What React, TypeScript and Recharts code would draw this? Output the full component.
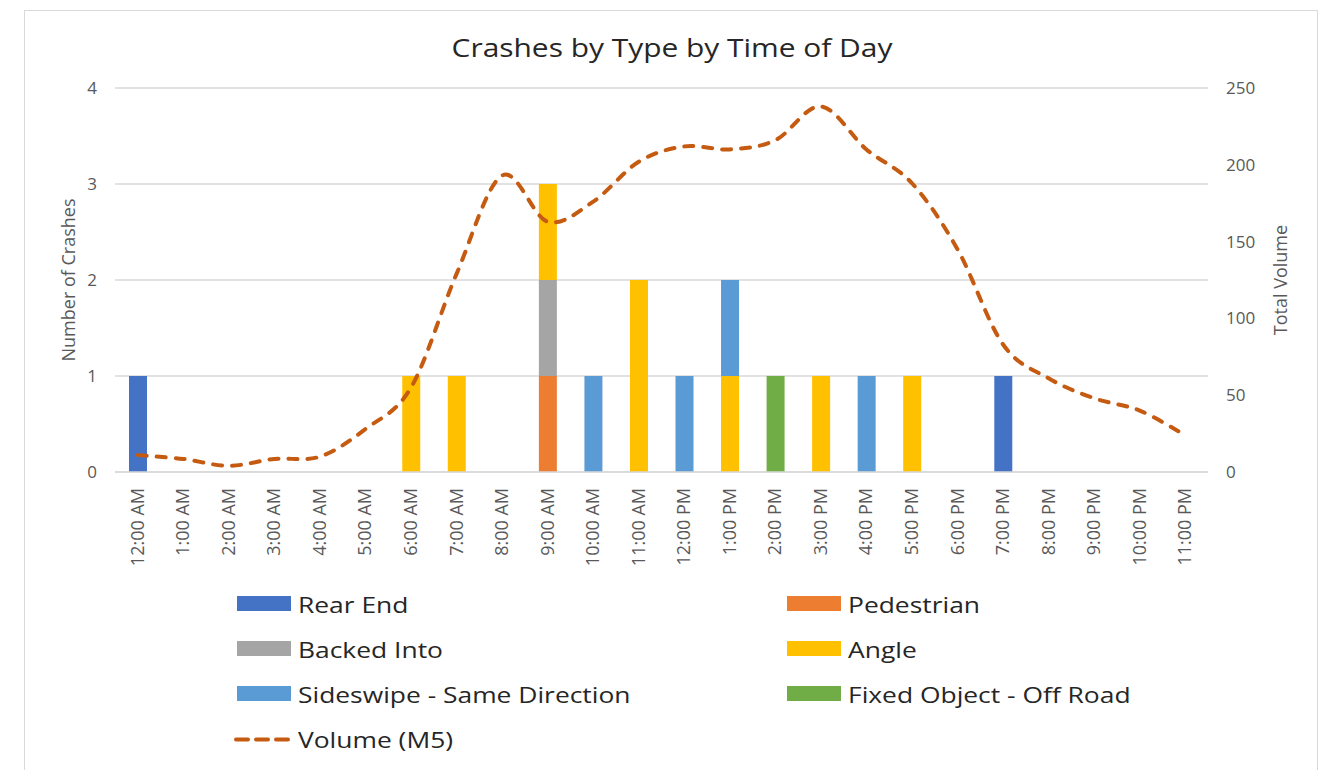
import React from 'react';
import { ComposedChart, Bar, Line, XAxis, YAxis, CartesianGrid } from 'recharts';

// hour of day categories
const hours = [
  '12:00 AM', '1:00 AM', '2:00 AM', '3:00 AM', '4:00 AM', '5:00 AM',
  '6:00 AM', '7:00 AM', '8:00 AM', '9:00 AM', '10:00 AM', '11:00 AM',
  '12:00 PM', '1:00 PM', '2:00 PM', '3:00 PM', '4:00 PM', '5:00 PM',
  '6:00 PM', '7:00 PM', '8:00 PM', '9:00 PM', '10:00 PM', '11:00 PM',
];

// crash counts per type
const rearEnd =     [1, 0, 0, 0, 0, 0, 0, 0, 0, 0, 0, 0, 0, 0, 0, 0, 0, 0, 0, 1, 0, 0, 0, 0];
const pedestrian =  [0, 0, 0, 0, 0, 0, 0, 0, 0, 1, 0, 0, 0, 0, 0, 0, 0, 0, 0, 0, 0, 0, 0, 0];
const backedInto =  [0, 0, 0, 0, 0, 0, 0, 0, 0, 1, 0, 0, 0, 0, 0, 0, 0, 0, 0, 0, 0, 0, 0, 0];
const angle =       [0, 0, 0, 0, 0, 0, 1, 1, 0, 1, 0, 2, 0, 1, 0, 1, 0, 1, 0, 0, 0, 0, 0, 0];
const sideswipe =   [0, 0, 0, 0, 0, 0, 0, 0, 0, 0, 1, 0, 1, 1, 0, 0, 1, 0, 0, 0, 0, 0, 0, 0];
const fixedObject = [0, 0, 0, 0, 0, 0, 0, 0, 0, 0, 0, 0, 0, 0, 1, 0, 0, 0, 0, 0, 0, 0, 0, 0];

// total traffic volume (M5)
const volume = [11, 8.5, 4, 8.5, 10, 28, 55, 129, 193, 163, 176, 202, 212, 210, 216, 238, 210, 188, 145, 83, 61, 48, 40, 24];

const leftTicks = [0, 1, 2, 3, 4];
const rightTicks = [0, 50, 100, 150, 200, 250];

const barSeries = [
  { key: 'rearEnd', name: 'Rear End', color: '#4472C4' },
  { key: 'pedestrian', name: 'Pedestrian', color: '#ED7D31' },
  { key: 'backedInto', name: 'Backed Into', color: '#A5A5A5' },
  { key: 'angle', name: 'Angle', color: '#FFC000' },
  { key: 'sideswipe', name: 'Sideswipe - Same Direction', color: '#5B9BD5' },
  { key: 'fixedObject', name: 'Fixed Object - Off Road', color: '#70AD47' },
];
const lineColor = '#C55A11';

const data = hours.map((hour, i) => ({
  hour,
  rearEnd: rearEnd[i],
  pedestrian: pedestrian[i],
  backedInto: backedInto[i],
  angle: angle[i],
  sideswipe: sideswipe[i],
  fixedObject: fixedObject[i],
  volume: volume[i],
}));

const FONT = '"Open Sans", sans-serif';
const AXIS_TEXT = '#595959';

// Excel-style smoothed line (Catmull-Rom through the points)
const excelSmooth = (context: any) => {
  let pts: number[][] = [];
  return {
    areaStart() {},
    areaEnd() {},
    lineStart() { pts = []; },
    point(x: number, y: number) { pts.push([+x, +y]); },
    lineEnd() {
      const n = pts.length;
      if (!n) return;
      context.moveTo(pts[0][0], pts[0][1]);
      for (let i = 0; i < n - 1; i++) {
        const p0 = pts[Math.max(0, i - 1)];
        const p1 = pts[i];
        const p2 = pts[i + 1];
        const p3 = pts[Math.min(n - 1, i + 2)];
        context.bezierCurveTo(
          p1[0] + (p2[0] - p0[0]) / 6, p1[1] + (p2[1] - p0[1]) / 6,
          p2[0] - (p3[0] - p1[0]) / 6, p2[1] - (p3[1] - p1[1]) / 6,
          p2[0], p2[1],
        );
      }
    },
  };
};

const HourTick = ({ x, y, payload }: any) => (
  <g transform={`translate(${x + 6},${y})`}>
    <text transform="rotate(-90)" textAnchor="end" fill={AXIS_TEXT} fontSize={18} fontFamily={FONT}>
      {payload.value}
    </text>
  </g>
);

const leftTitle = () => (
  <text x={75} y={280} transform="rotate(-90 75 280)" textAnchor="middle" fill={AXIS_TEXT} fontSize={18} fontFamily={FONT}>
    Number of Crashes
  </text>
);

const rightTitle = () => (
  <text x={1287} y={280} transform="rotate(-90 1287 280)" textAnchor="middle" fill={AXIS_TEXT} fontSize={18} fontFamily={FONT}>
    Total Volume
  </text>
);

const legendItems = [
  ...barSeries.map(s => ({ name: s.name, color: s.color, dashed: false })),
  { name: 'Volume (M5)', color: lineColor, dashed: true },
];

const Legend2Col = () => (
  <>
    {legendItems.map((item, i) => {
      const col = i % 2;
      const row = Math.floor(i / 2);
      return (
        <div
          key={item.name}
          style={{
            position: 'absolute',
            left: col === 0 ? 234 : 787,
            top: 603.5 + row * 45.2 - 15,
            height: 30,
            display: 'flex',
            alignItems: 'center',
            whiteSpace: 'nowrap',
          }}
        >
          {item.dashed ? (
            <svg width={57} height={15} style={{ marginRight: 7 }}>
              <line x1={2} y1={7.5} x2={55} y2={7.5} stroke={item.color} strokeWidth={4} strokeDasharray="12 8" strokeLinecap="round" />
            </svg>
          ) : (
            <div style={{ width: 54, height: 15, background: item.color, marginLeft: col === 0 ? 3 : 0, marginRight: 7 }} />
          )}
          <span
            style={{
              fontFamily: FONT,
              fontSize: 22,
              lineHeight: '30px',
              color: '#262626',
              display: 'inline-block',
              transform: 'scaleX(1.2)',
              transformOrigin: 'left center',
            }}
          >
            {item.name}
          </span>
        </div>
      );
    })}
  </>
);

export default function App() {
  return (
    <div style={{ position: 'absolute', left: 0, top: 0, width: 1326, height: 770, overflow: 'hidden', background: '#fff' }}>
      <div style={{ position: 'absolute', left: 24, top: 10, width: 1294, height: 800, border: '1px solid #d9d9d9', boxSizing: 'border-box' }} />
      <div
        style={{
          position: 'absolute',
          left: 372,
          top: 29,
          width: 600,
          textAlign: 'center',
          fontFamily: FONT,
          fontSize: 26,
          lineHeight: '36px',
          color: '#262626',
          transform: 'scaleX(1.15)',
        }}
      >
        Crashes by Type by Time of Day
      </div>
      <div style={{ position: 'absolute', left: 0, top: 0 }}>
        <ComposedChart width={1326} height={770} data={data} margin={{ top: 88, right: 58, bottom: 188, left: 65 }}>
          <CartesianGrid yAxisId="left" vertical={false} stroke="#d9d9d9" strokeWidth={1.5} />
          <XAxis
            dataKey="hour"
            interval={0}
            height={110}
            tickSize={0}
            tickLine={false}
            tickMargin={16}
            axisLine={{ stroke: '#d9d9d9', strokeWidth: 1.5 }}
            tick={<HourTick />}
          />
          <YAxis
            yAxisId="left"
            orientation="left"
            width={50}
            domain={[0, 4]}
            ticks={leftTicks}
            axisLine={false}
            tickLine={false}
            tickSize={0}
            tickMargin={18}
            tick={{ fill: AXIS_TEXT, fontSize: 17, fontFamily: FONT }}
            label={leftTitle}
          />
          <YAxis
            yAxisId="right"
            orientation="right"
            width={60}
            domain={[0, 250]}
            ticks={rightTicks}
            axisLine={false}
            tickLine={false}
            tickSize={0}
            tickMargin={18}
            tick={{ fill: AXIS_TEXT, fontSize: 17, fontFamily: FONT }}
            label={rightTitle}
          />
          {barSeries.map(s => (
            <Bar
              key={s.key}
              yAxisId="left"
              dataKey={s.key}
              name={s.name}
              stackId="crashes"
              fill={s.color}
              barSize={18}
              isAnimationActive={false}
            />
          ))}
          <Line
            yAxisId="right"
            type={excelSmooth as any}
            dataKey="volume"
            name="Volume (M5)"
            stroke={lineColor}
            strokeWidth={4}
            strokeDasharray="9 10"
            strokeLinecap="round"
            dot={false}
            activeDot={false}
            isAnimationActive={false}
          />
        </ComposedChart>
      </div>
      <Legend2Col />
    </div>
  );
}
